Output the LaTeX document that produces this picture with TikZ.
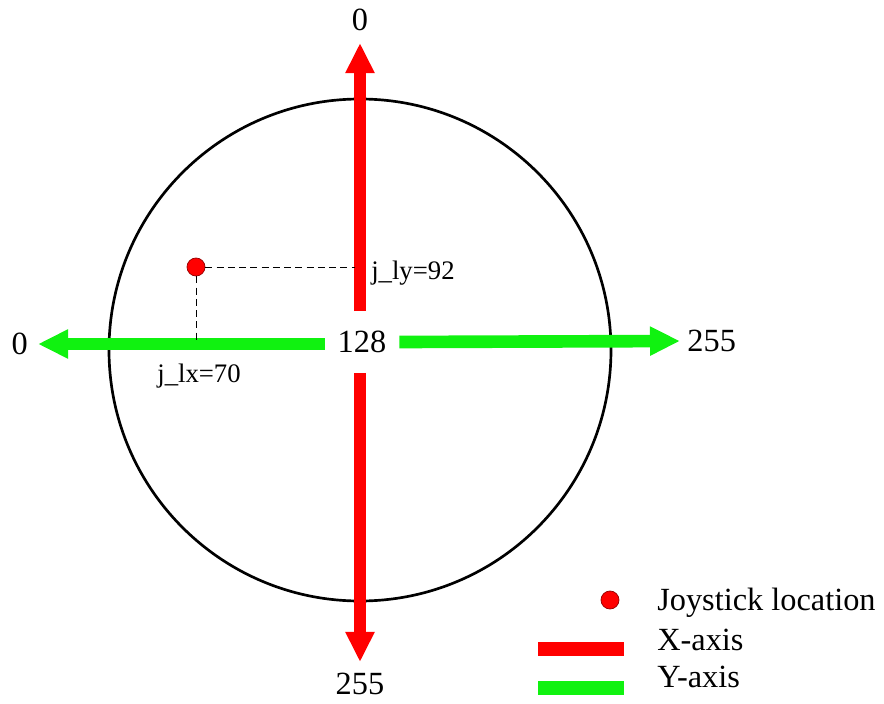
\documentclass[tikz,border=0pt]{standalone}
\usepackage{fontspec}
\setmainfont{Liberation Serif}
\usepackage{xcolor}
\usetikzlibrary{positioning, arrows.meta}
\definecolor{axisred}{RGB}{255,0,0}
\definecolor{axisgreen}{RGB}{16,242,16}
\definecolor{dotedge}{RGB}{150,0,0}

\begin{document}
\begin{tikzpicture}[x=0.025cm, y=-0.025cm, >={Triangle[length=0.75cm, width=0.68cm]},
    lbl/.style={font=\fontsize{23}{26}\selectfont, inner sep=0pt},
    small/.style={font=\fontsize{19}{22}\selectfont, inner sep=0pt},
    xaxis/.style={axisred, line width=8pt},
    yaxis/.style={axisgreen, line width=9pt},
    joy/.style={circle, fill=axisred, draw=dotedge, line width=0.5pt, minimum size=0.45cm, inner sep=0pt},
    guide/.style={dash pattern=on 5pt off 3pt, line width=0.6pt}]
    \useasboundingbox (0,0) rectangle (884,704);

    % Stick range
    \draw[line width=1.9pt] (360,350) circle [radius=251*0.025cm];

    % Centre and axis ends
    \node[lbl, minimum width=1.85cm, minimum height=1.53cm] (c) at (362,342) {128};
    \coordinate (xtop) at (360,43);
    \coordinate (xbot) at (360,662);
    \coordinate (yleft) at (38,344);
    \coordinate (yright) at (680,341);

    % Axes
    \draw[xaxis, ->] (c.north -| xtop) -- (xtop);
    \draw[xaxis, ->] (c.south -| xbot) -- (xbot);
    \draw[yaxis, ->] (c.west |- yleft) -- (yleft);
    \draw[yaxis, ->] (c.east) -- (yright);

    % End values
    \node[lbl, above=0.3cm of xtop] (xmin) {0};
    \node[lbl, below=0.28cm of xbot] (xmax) {255};
    \node[lbl, left=0.25cm of yleft] (ymin) {0};
    \node[lbl, right=0.18cm of yright] (ymax) {255};

    % Joystick location
    \node[joy] (j) at (196,267) {};
    \coordinate (jy) at (355,267);
    \coordinate (jx) at (196,340);
    \draw[guide] (j) -- (jy);
    \draw[guide] (j) -- (jx);
    \node[small, anchor=west] (ly) at (371,273) {j\_ly=92};
    \node[small] (lx) at (199,376) {j\_lx=70};

    % Legend
    \node[joy] (legdot) at (610,600) {};
    \node[lbl, anchor=west] (legjoy) at (657,603) {Joystick location};
    \node[lbl, anchor=west] (legx) at (657,640) {X-axis};
    \node[lbl, anchor=west] (legy) at (657,677) {Y-axis};
    \fill[axisred] (538,642) rectangle (624,656);
    \fill[axisgreen] (538,681) rectangle (624,695);
\end{tikzpicture}
\end{document}
